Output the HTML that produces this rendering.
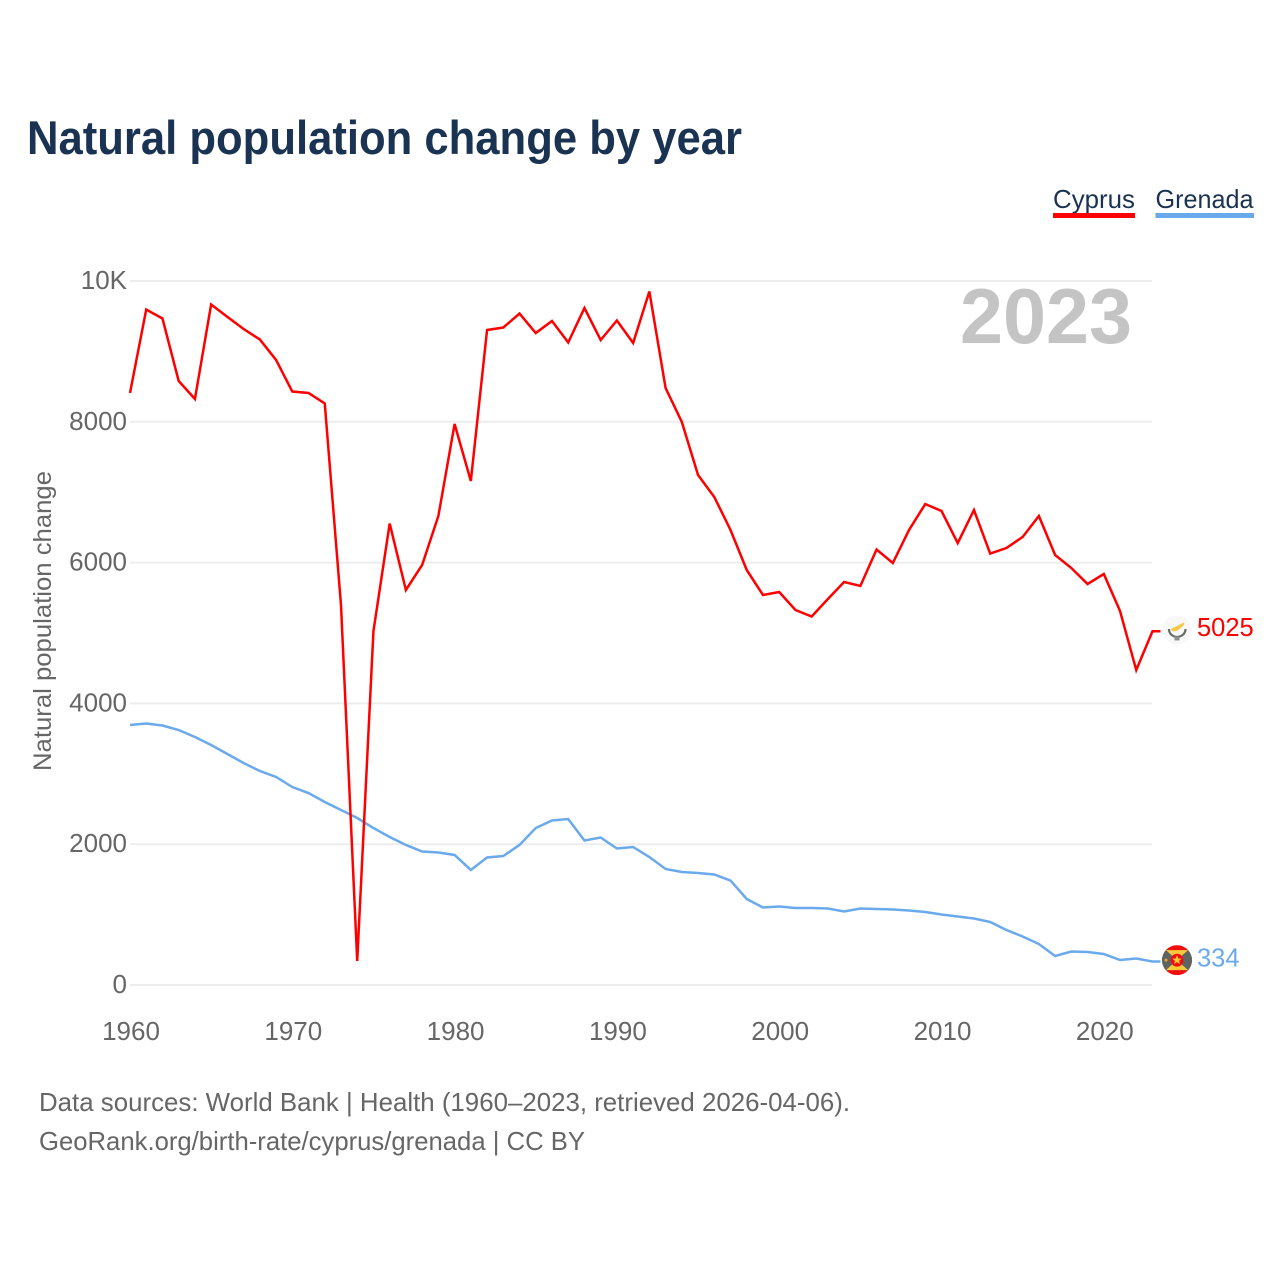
<!DOCTYPE html>
<html lang="en">
<head>
<meta charset="utf-8">
<title>Natural population change by year</title>
<style>
html,body{margin:0;padding:0;background:#fff;}
svg{display:block;font-family:"Liberation Sans",sans-serif;}
</style>
</head>
<body>
<svg id="chart" width="1280" height="1280" viewBox="0 0 1280 1280" xmlns="http://www.w3.org/2000/svg">
  <defs>
    <clipPath id="flag-clip-gd"><circle cx="0" cy="0" r="15"/></clipPath>
  </defs>
  <rect width="1280" height="1280" fill="#ffffff"/>
  <text x="27" y="154" font-size="47" font-weight="700" fill="#1a3353" textLength="715" lengthAdjust="spacingAndGlyphs">Natural population change by year</text>

  <g>
    <g>
      <text x="1053" y="208" font-size="26" fill="#1a3353" textLength="82" lengthAdjust="spacingAndGlyphs">Cyprus</text>
      <rect x="1053" y="213" width="82" height="5" fill="#ff0000"/>
    </g>
    <g>
      <text x="1155.5" y="208" font-size="26" fill="#1a3353" textLength="98" lengthAdjust="spacingAndGlyphs">Grenada</text>
      <rect x="1155.5" y="213" width="98.5" height="5" fill="#6aaaec"/>
    </g>
  </g>

  <g id="grid"></g>
  <g id="y-ticks"></g>
  <g id="x-ticks"></g>

  <text transform="translate(51,621) rotate(-90)" text-anchor="middle" font-size="25" fill="#666666" textLength="300" lengthAdjust="spacingAndGlyphs">Natural population change</text>
  <text x="960" y="343" font-size="78" font-weight="700" fill="#c4c4c4" textLength="172" lengthAdjust="spacingAndGlyphs">2023</text>

  <g id="series"></g>

  <g id="flag-cyprus">
    <circle cx="0" cy="0" r="14.5" fill="#f8f8f8"/>
    <path d="M-6,-1 C-4,-3 -1,-3 1,-4.5 C3,-6 6,-7 7.5,-7.5 C7,-4.5 5,-3 3,-1.5 C1,1 -3,2 -5,1 Z" fill="#f4c84a"/>
    <path d="M-8,-1 C-8,4 -4,7 0,7 C4,7 8.5,4 8.5,-1" fill="none" stroke="#666b69" stroke-width="2.2"/>
    <rect x="-2.5" y="6.5" width="5" height="4" fill="#8a8e8c"/>
  </g>

  <g id="flag-grenada">
    <g clip-path="url(#flag-clip-gd)">
      <rect x="-15" y="-15" width="30" height="30" fill="#f40d0d"/>
      <rect x="-15" y="-10" width="30" height="20" fill="#5d6562"/>
      <polygon points="-11,-10 11,-10 0,0" fill="#f8c93a"/>
      <polygon points="-11,10 11,10 0,0" fill="#f8c93a"/>
      <circle cx="0" cy="0" r="6.4" fill="#f40d0d"/>
      <polygon points="0,-5 1.4,-1.6 4.8,-1.5 2.1,0.6 3,4 0,2 -3,4 -2.1,0.6 -4.8,-1.5 -1.4,-1.6" fill="#f8c93a"/>
      <circle cx="-11" cy="0" r="1.5" fill="#e8a62e"/>
    </g>
  </g>

  <g id="end-labels"></g>

  <text x="39" y="1111" font-size="26" fill="#666666" textLength="811" lengthAdjust="spacingAndGlyphs">Data sources: World Bank | Health (1960–2023, retrieved 2026-04-06).</text>
  <text x="39" y="1150" font-size="26" fill="#666666" textLength="546" lengthAdjust="spacingAndGlyphs">GeoRank.org/birth-rate/cyprus/grenada | CC BY</text>

<script>
var startYear = 1960;
var cyprusValues = [8409,9595,9467,8580,8324,9666,9490,9318,9169,8878,8430,8409,8260,5398,341,5028,6555,5611,5966,6662,7969,7159,9304,9339,9538,9261,9432,9126,9616,9162,9439,9119,9851,8480,7997,7244,6932,6463,5895,5540,5582,5327,5234,5483,5724,5668,6186,5994,6463,6832,6733,6278,6747,6129,6207,6364,6662,6108,5923,5696,5838,5312,4474,5025];
var grenadaValues = [3693,3714,3686,3622,3523,3409,3281,3153,3040,2955,2812,2727,2599,2486,2372,2230,2102,1989,1896,1882,1847,1634,1811,1832,1989,2230,2337,2358,2053,2095,1939,1960,1818,1648,1605,1591,1570,1484,1222,1101,1115,1094,1094,1087,1044,1087,1080,1072,1058,1037,1001,973,945,895,781,689,582,412,476,469,440,355,376,334];
var yTickValues = [0,2000,4000,6000,8000,10000];
var yTickLabels = ['0','2000','4000','6000','8000','10K'];
var xTickYears = [1960,1970,1980,1990,2000,2010,2020];

var NS = 'http://www.w3.org/2000/svg';
function xScale(year){ return 130 + (year - 1960) * 16.23; }
function yScale(v){ return 985 - v * 0.0704; }
function make(tag, attrs, parent){
  var el = document.createElementNS(NS, tag);
  for (var k in attrs) el.setAttribute(k, attrs[k]);
  parent.appendChild(el);
  return el;
}

var gridG = document.getElementById('grid');
var yG = document.getElementById('y-ticks');
var xG = document.getElementById('x-ticks');
var seriesG = document.getElementById('series');
var labelsG = document.getElementById('end-labels');

yTickValues.forEach(function(v, i){
  var line = make('line', {x1:130, x2:1152, y1:yScale(v), y2:yScale(v), stroke:'#ededed', 'stroke-width':2}, gridG);
  
  
  var t = make('text', {x:127, y:yScale(v)+8, 'text-anchor':'end', 'font-size':26, fill:'#666666'}, yG);
  
  
  t.textContent = yTickLabels[i];
});

xTickYears.forEach(function(yr){
  var t = make('text', {x:xScale(yr)+1, y:1040, 'text-anchor':'middle', 'font-size':26, fill:'#666666'}, xG);
  
  
  t.textContent = String(yr);
});

function drawSeries(values, color){
  var pts = values.map(function(v, i){
    return xScale(startYear + i).toFixed(2) + ',' + yScale(v).toFixed(2);
  });
  var lastX = xScale(startYear + values.length - 1);
  var lastY = yScale(values[values.length - 1]);
  pts.push((lastX + 8).toFixed(2) + ',' + lastY.toFixed(2));
  return make('polyline', {points:pts.join(' '), fill:'none', stroke:color, 'stroke-width':2.5, 'stroke-linejoin':'miter'}, seriesG);
}

var grenadaLine = drawSeries(grenadaValues, '#6aaaec');


var cyprusLine = drawSeries(cyprusValues, '#ff0000');



function placeEnd(values, flagId, color){
  var last = values[values.length - 1];
  var y = yScale(last);
  document.getElementById(flagId).setAttribute('transform', 'translate(1177,' + (y - 1.3) + ')');
  var t = make('text', {x:1197, y:y + 5, 'font-size':25.5, fill:color}, labelsG);
  t.textContent = String(last);
  return t;
}
var cyprusLabel = placeEnd(cyprusValues, 'flag-cyprus', '#ff0000');


var grenadaLabel = placeEnd(grenadaValues, 'flag-grenada', '#6aaaec');


</script>
</svg>
</body>
</html>
